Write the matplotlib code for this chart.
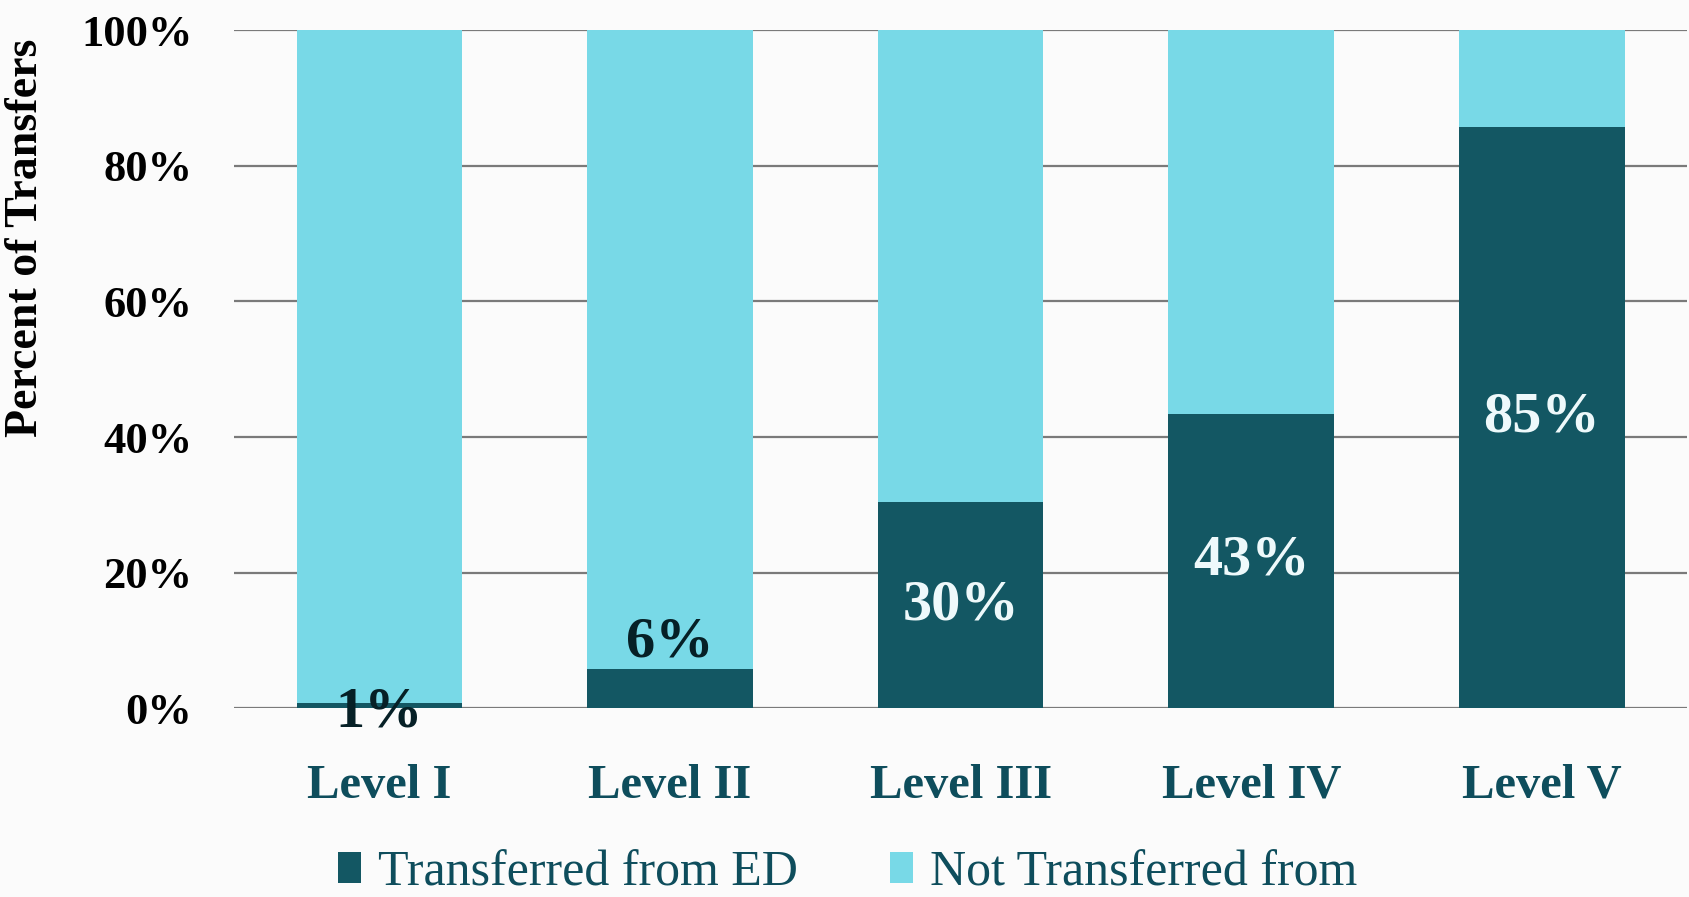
import matplotlib
matplotlib.use("Agg")
import matplotlib.pyplot as plt
from matplotlib.patches import Patch

categories = ["Level I", "Level II", "Level III", "Level IV", "Level V"]
transferred = [0.7, 5.8, 30.4, 43.4, 85.8]
labels = ["1%", "6%", "30%", "43%", "85%"]
legend_labels = ["Transferred from ED", "Not Transferred from"]
yticks = [0, 20, 40, 60, 80, 100]
ytick_labels = ["0%", "20%", "40%", "60%", "80%", "100%"]

not_transferred = [100 - v for v in transferred]

dark = "#135763"
light = "#78D9E7"
teal_text = "#0E4D5C"
bg = "#FBFBFB"

plt.rcParams['font.family'] = ['Liberation Serif', 'DejaVu Serif']

fig = plt.figure(figsize=(16.9, 8.97), dpi=100, facecolor=bg)
ax = fig.add_axes([0.1385, 0.2107, 0.8598, 0.7553])
ax.set_facecolor(bg)

x = list(range(len(categories)))
w = 0.57
ax.bar(x, transferred, width=w, color=dark, zorder=3)
ax.bar(x, not_transferred, width=w, bottom=transferred, color=light, zorder=3)

ax.set_xlim(-0.5, len(categories) - 0.5)
ax.set_ylim(0, 100)
ax.set_yticks(yticks)
ax.set_yticklabels(ytick_labels, fontsize=32, fontweight='bold', color='black')
ax.set_xticks(x)
ax.set_xticklabels(categories, fontsize=35, fontweight='bold', color=teal_text)
ax.tick_params(axis='y', length=0, pad=30)
ax.tick_params(axis='x', length=0, pad=40)
for s in ax.spines.values():
    s.set_visible(False)
ax.yaxis.grid(True, color='#7A7A7A', linewidth=1.6, zorder=0)
ax.set_axisbelow(True)
ax.set_ylabel("Percent of Transfers", fontsize=33, fontweight='bold', color='black')
ax.yaxis.set_label_coords(-0.129, 0.694)

for i, (v, lab) in enumerate(zip(transferred, labels)):
    if v < 3:
        ax.text(i, v / 2 - 1, lab, ha='center', va='center', fontsize=42, fontweight='bold', color='#062026', zorder=5)
    elif v < 10:
        ax.text(i, v, lab, ha='center', va='bottom', fontsize=42, fontweight='bold', color='#062026', zorder=5)
    else:
        ax.text(i, v / 2, lab, ha='center', va='center', fontsize=42, fontweight='bold', color='#EEF9FB', zorder=5)

handles = [Patch(facecolor=dark, edgecolor='none'), Patch(facecolor=light, edgecolor='none')]
fig.legend(handles, legend_labels, loc='lower left', bbox_to_anchor=(0.2, 0.001), ncol=2,
           frameon=False, fontsize=36, labelcolor=teal_text, handlelength=0.46, handleheight=0.56,
           handletextpad=0.34, columnspacing=1.85, borderpad=0, borderaxespad=0)

fig.savefig("out.png", dpi=100, facecolor=bg)
